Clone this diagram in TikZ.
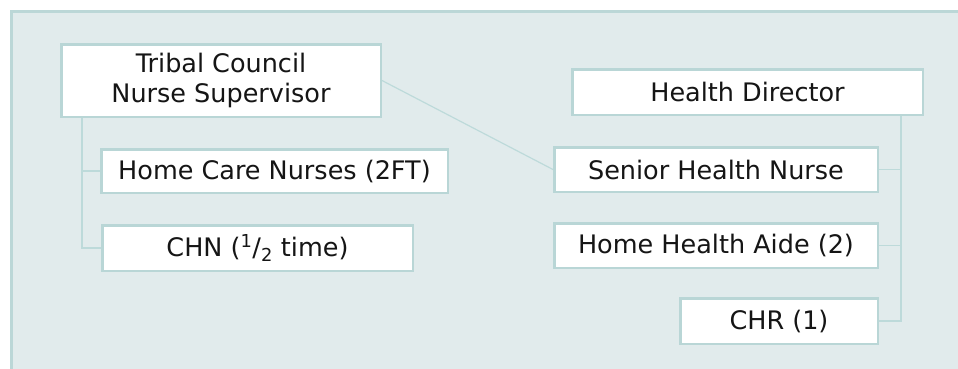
\documentclass[tikz,border=0pt]{standalone}
\usepackage{fontspec}
\setmainfont{DejaVu Sans}
\definecolor{panelfill}{HTML}{E1EBEC}
\definecolor{panelline}{HTML}{BBD7D7}
\definecolor{boxline}{HTML}{B9D6D6}
\definecolor{linkline}{HTML}{BDDADA}
\definecolor{ink}{HTML}{151515}
\tikzset{post/.style={draw=boxline, line width=2.5pt, fill=white, inner sep=0pt, align=center,
        text=ink, font=\fontsize{25.5}{30}\selectfont}}
\tikzset{link/.style={draw=linkline, line width=1.2pt}}

\begin{document}
\begin{tikzpicture}[x=1pt, y=-1pt]
        \useasboundingbox (0,0) rectangle (958,368);
        \fill[panelfill] (11,11) rectangle (975,385);
        \draw[panelline, line width=3pt] (11,385) -- (11,11) -- (975,11);

        % left side
        \node[post, minimum width=319.5pt, minimum height=72.5pt] (tc) at (221,80.5) {Tribal Council\\Nurse Supervisor};
        \node[post, minimum width=346.5pt, minimum height=43.5pt] (hcn) at (274.5,171) {Home Care Nurses (2FT)};
        \node[post, minimum width=310.5pt, minimum height=45.5pt] (chn) at (257.5,248) {CHN (\textsuperscript{1}/\textsubscript{2} time)};

        % right side
        \node[post, minimum width=350.5pt, minimum height=45.5pt] (hd) at (747.5,92) {Health Director};
        \node[post, minimum width=323.5pt, minimum height=44.5pt] (shn) at (716,169.5) {Senior Health Nurse};
        \node[post, minimum width=323.5pt, minimum height=44.5pt] (hha) at (716,245.5) {Home Health Aide (2)};
        \node[post, minimum width=197.5pt, minimum height=45.5pt] (chr) at (779,321) {CHR (1)};

        \coordinate (ltrunk) at (82,0);
        \coordinate (rtrunk) at (901,0);

        \draw[link] (tc.south -| ltrunk) |- (hcn.west);
        \draw[link] (tc.south -| ltrunk) |- (chn.west);

        \draw[link] (hd.south -| rtrunk) |- (shn.east);
        \draw[link] (hd.south -| rtrunk) |- (hha.east);
        \draw[link] (hd.south -| rtrunk) |- (chr.east);

        \draw[link] (tc.east) -- (shn.west);
\end{tikzpicture}
\end{document}
